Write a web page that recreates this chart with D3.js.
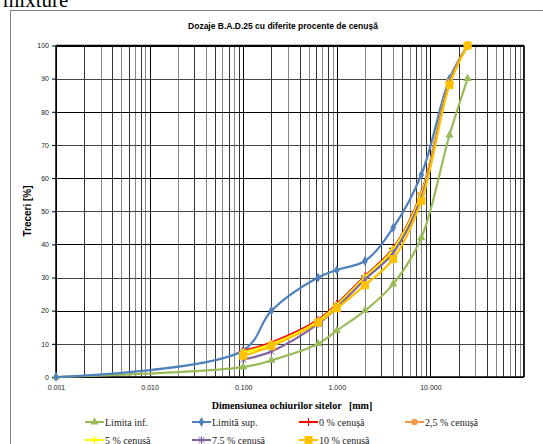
<!DOCTYPE html>
<html><head><meta charset="utf-8">
<script src="https://cdn.jsdelivr.net/npm/d3@7"></script>
<style>body{margin:0;background:#fff}svg{display:block}</style>
</head><body>
<svg id="c" width="543" height="444"></svg>
<script>
const sieves = [0.1, 0.2, 0.63, 1, 2, 4, 8, 16, 25];
const limInfX = [0.001, 0.1, 0.2, 0.63, 1, 2, 4, 8, 16, 25];
const limInf = [0, 3, 5, 10, 14, 20, 28, 42, 73, 90];
const limSup = [0, 8, 20, 30, 32.3, 35, 45, 61, 90, 100];
const c0 = [7.9, 10.4, 17.2, 22, 30.4, 38.8, 55.5, 89, 100];
const c25 = [7.6, 10, 16.8, 21.7, 30, 38.2, 54.8, 89, 100];
const c5 = [7.3, 9.8, 16.8, 21.5, 30, 38.4, 55, 89, 100];
const c75 = [5.3, 7.7, 16, 21, 29.4, 37.5, 54.2, 88.8, 100];
const c10 = [6.4, 9.3, 16.4, 20.7, 27.7, 35.6, 53.1, 88.1, 100];
const xTicks = [0.001, 0.01, 0.1, 1, 10];
const yTicks = [0,10,20,30,40,50,60,70,80,90,100];

const svg = d3.select("#c");
const L=56, R=524, T=45.5, B=377;
const x = d3.scaleLog().domain([0.001,100]).range([L,R]);
const y = d3.scaleLinear().domain([0,100]).range([B,T]);

svg.append("text").attr("x",3).attr("y",7).attr("font-family","Liberation Serif").attr("font-size",21).text("mixture");
svg.append("rect").attr("x",10.5).attr("y",10.5).attr("width",600).attr("height",500).attr("fill","none").attr("stroke","#808080");

// grid
const vlines=[];
for(let e=-3;e<2;e++){for(let m=1;m<10;m++){vlines.push(m*Math.pow(10,e));}}
const g=svg.append("g");
g.selectAll("line.v").data(vlines).join("line")
 .attr("x1",d=>Math.round(x(d))+0.5).attr("x2",d=>Math.round(x(d))+0.5)
 .attr("y1",T).attr("y2",B).attr("stroke",(d,i)=>i%9===0?"#000":(i%2?"#333":"#888")).attr("stroke-width",1);
g.selectAll("line.h").data(yTicks).join("line")
 .attr("x1",L).attr("x2",R).attr("y1",d=>Math.round(y(d))+0.5).attr("y2",d=>Math.round(y(d))+0.5)
 .attr("stroke",d=>d%20===0?"#000":"#444");
svg.append("line").attr("x1",R).attr("x2",R).attr("y1",T).attr("y2",B).attr("stroke","#222").attr("stroke-width",2);
svg.append("line").attr("x1",L).attr("x2",L).attr("y1",T).attr("y2",B).attr("stroke","#000").attr("stroke-width",1.5);
svg.append("line").attr("x1",L).attr("x2",R).attr("y1",B).attr("y2",B).attr("stroke","#000").attr("stroke-width",1.5);
svg.append("line").attr("x1",L).attr("x2",R).attr("y1",T).attr("y2",T).attr("stroke","#000").attr("stroke-width",1.5);

// axes labels
const yAxis=d3.axisLeft(y).tickValues(yTicks).tickSize(4).tickFormat(d3.format("d"));
const ya=svg.append("g").attr("transform",`translate(${L},0)`).call(yAxis);
ya.select(".domain").remove();
ya.selectAll("text").attr("font-family","Liberation Sans").attr("font-size",7).attr("fill","#222");
const xAxis=d3.axisBottom(x).tickValues(xTicks).tickSize(0).tickPadding(8).tickFormat(d3.format(".3f"));
const xa=svg.append("g").attr("transform",`translate(0,${B})`).call(xAxis);
xa.select(".domain").remove();
xa.selectAll("text").attr("font-family","Liberation Sans").attr("font-size",7).attr("fill","#222");

svg.append("text").attr("x",283).attr("y",29).attr("text-anchor","middle").attr("font-family","Liberation Sans").attr("font-weight","bold").attr("font-size",8.5).text("Dozaje B.A.D.25 cu diferite procente de cenușă");
svg.append("text").attr("transform",`translate(31,211) rotate(-90)`).attr("text-anchor","middle").attr("font-family","Liberation Sans").attr("font-weight","bold").attr("font-size",10).text("Treceri [%]");
svg.append("text").attr("x",292).attr("y",409).attr("text-anchor","middle").attr("font-family","Liberation Serif").attr("font-weight","bold").attr("font-size",10).attr("xml:space","preserve").text("Dimensiunea ochiurilor sitelor   [mm]");

const line=d3.line().x(d=>x(d[0])).y(d=>y(d[1])).curve(d3.curveCatmullRom.alpha(0.5));
const series=[
 {name:"Limita inf.",xs:limInfX,v:limInf,c:"#9BBB59",m:"tri"},
 {name:"Limită sup.",xs:limInfX,v:limSup,c:"#4F81BD",m:"dia"},
 {name:"0 % cenușă",xs:sieves,v:c0,c:"#FF0000",m:"plus"},
 {name:"2,5 % cenușă",xs:sieves,v:c25,c:"#F79646",m:"circ"},
 {name:"5 % cenușă",xs:sieves,v:c5,c:"#FFFF00",m:"ast"},
 {name:"7,5 % cenușă",xs:sieves,v:c75,c:"#8064A2",m:"star"},
 {name:"10 % cenușă",xs:sieves,v:c10,c:"#FFC000",m:"sq"}
];
function marker(sel,m,c){
 if(m==="tri") sel.append("path").attr("d",d3.symbol(d3.symbolTriangle,30)()).attr("fill",c);
 if(m==="dia") sel.append("path").attr("d",d3.symbol(d3.symbolDiamond,28)()).attr("fill",c);
 if(m==="circ") sel.append("path").attr("d",d3.symbol(d3.symbolCircle,32)()).attr("fill",c);
 if(m==="sq") sel.append("rect").attr("x",-4).attr("y",-4).attr("width",8).attr("height",8).attr("fill",c);
 if(m==="plus") sel.append("path").attr("d","M-4,0H4M0,-4V4").attr("stroke",c).attr("stroke-width",1.2);
 if(m==="ast") sel.append("path").attr("d","M-4,0H4M0,-4V4M-3,-3L3,3M-3,3L3,-3").attr("stroke",c).attr("stroke-width",1);
 if(m==="star") sel.append("path").attr("d","M-3,-3L3,3M-3,3L3,-3M0,-4V4").attr("stroke",c).attr("stroke-width",1);
}
series.forEach(s=>{
 const pts=s.xs.map((xv,i)=>[xv,s.v[i]]);
 svg.append("path").datum(pts).attr("d",line).attr("fill","none").attr("stroke",s.c).attr("stroke-width",2.2);
 pts.forEach(p=>{const gg=svg.append("g").attr("transform",`translate(${x(p[0])},${y(p[1])})`);marker(gg,s.m,s.c);});
});
// legend
const lpos=[[85,422],[192,422],[299,422],[405,422],[85,440],[192,440],[299,440]];
series.forEach((s,i)=>{
 const [lx,ly]=lpos[i];
 svg.append("line").attr("x1",lx).attr("x2",lx+19).attr("y1",ly).attr("y2",ly).attr("stroke",s.c).attr("stroke-width",2);
 marker(svg.append("g").attr("transform",`translate(${lx+9.5},${ly})`),s.m,s.c);
 svg.append("text").attr("x",lx+20).attr("y",ly+3.5).attr("font-family","Liberation Serif").attr("font-size",10).attr("fill","#222").text(s.name);
});
</script>
</body></html>
